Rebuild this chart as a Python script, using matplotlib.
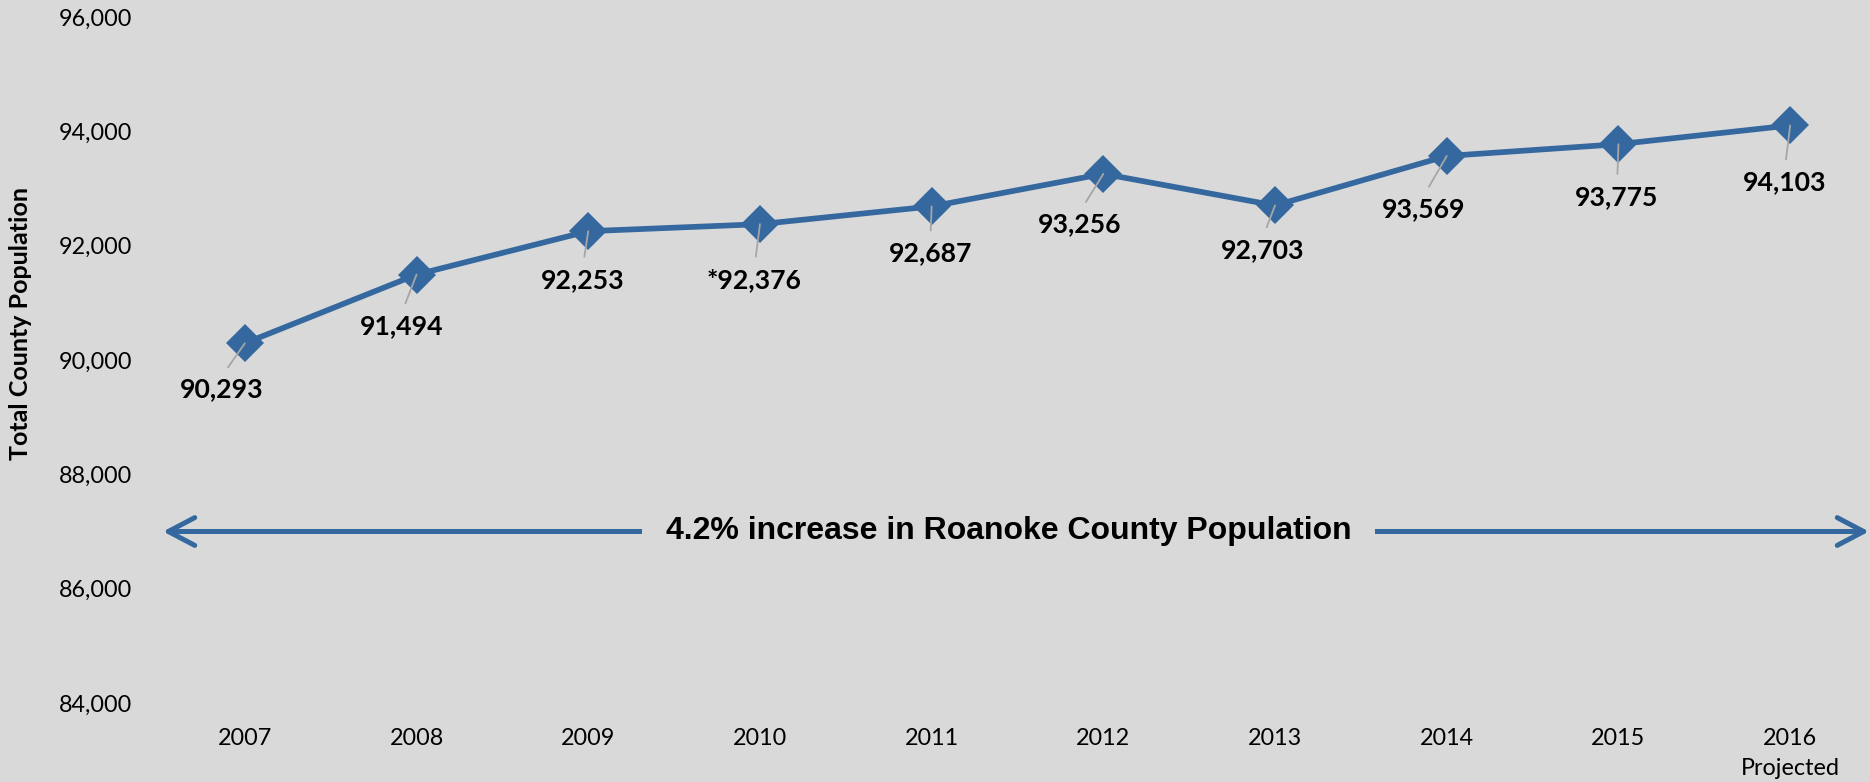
import matplotlib
matplotlib.use('Agg')
import matplotlib.pyplot as plt
from matplotlib.patches import FancyArrowPatch
from matplotlib.transforms import blended_transform_factory

# Roanoke County population by year
years = ['2007', '2008', '2009', '2010', '2011', '2012', '2013', '2014', '2015', '2016\nProjected']
population = [90293, 91494, 92253, 92376, 92687, 93256, 92703, 93569, 93775, 94103]
label_prefix = ['', '', '', '*', '', '', '', '', '', '']
yticks = [84000, 86000, 88000, 90000, 92000, 94000, 96000]

# where each data label sits relative to its point (points)
label_offsets = [(-17, -33), (-11, -37), (-4, -35), (-4, -40), (-1, -34),
                 (-17, -36), (-9, -32), (-17, -38), (-1, -38), (-4, -41)]

bg = '#D9D9D9'
blue = '#35689F'
body_font = 'Lato'

fig = plt.figure(figsize=(18.7, 7.82), dpi=100, facecolor=bg)
ax = fig.add_axes([159 / 1870, 1 - 703 / 782, 1717 / 1870, 686 / 782])
ax.set_facecolor(bg)

x = list(range(len(years)))
ax.plot(x, population, color=blue, lw=4.1, marker='D', ms=19.5,
        markeredgewidth=0, zorder=3, solid_capstyle='round')

ax.set_xlim(-0.5, len(years) - 0.5)
ax.set_ylim(84000, 96000)
ax.set_yticks(yticks)
ax.set_yticklabels([f'{t:,}' for t in yticks], fontsize=16.8, family=body_font)
ax.set_xticks(x)
ax.set_xticklabels(years, fontsize=16.8, family=body_font, linespacing=1.55)
ax.tick_params(axis='both', length=0)
ax.tick_params(axis='y', pad=19)
ax.tick_params(axis='x', pad=18)
for s in ax.spines.values():
    s.set_visible(False)

# data labels with grey leader lines
for i, (v, pre) in enumerate(zip(population, label_prefix)):
    dx, dy = label_offsets[i]
    ax.annotate(f'{pre}{v:,}', xy=(i, v), xytext=(dx, dy), textcoords='offset points',
                ha='center', va='center', fontsize=19.2, fontweight='bold',
                family=body_font, color='black', zorder=5,
                arrowprops=dict(arrowstyle='-', color='#A6A6A6', lw=1.3,
                                shrinkA=6, shrinkB=0, relpos=(0.5, 1.0)))

# double-headed span arrow with caption
arrow_y = 87000
span = blended_transform_factory(ax.transAxes, ax.transData)
arr = FancyArrowPatch((4 / 1717, arrow_y), (1710 / 1717, arrow_y),
                      arrowstyle='<->,head_length=0.95,head_width=0.5',
                      mutation_scale=20, color=blue, lw=3.6,
                      shrinkA=0, shrinkB=0,
                      capstyle='round', joinstyle='round', zorder=2)
arr.set_transform(span)
ax.add_patch(arr)

ax.text(849.5 / 1717, arrow_y, '4.2% increase in Roanoke County Population',
        transform=span, ha='center', va='center', fontsize=23, fontweight='bold',
        family='Liberation Sans', color='black', zorder=4,
        bbox=dict(facecolor=bg, edgecolor='none', pad=17))

fig.text(21 / 1870, 1 - 324 / 782, 'Total County Population', rotation=90,
         ha='center', va='center', fontsize=18, fontweight='bold', family=body_font)

fig.savefig('out.png', dpi=100, facecolor=bg)
